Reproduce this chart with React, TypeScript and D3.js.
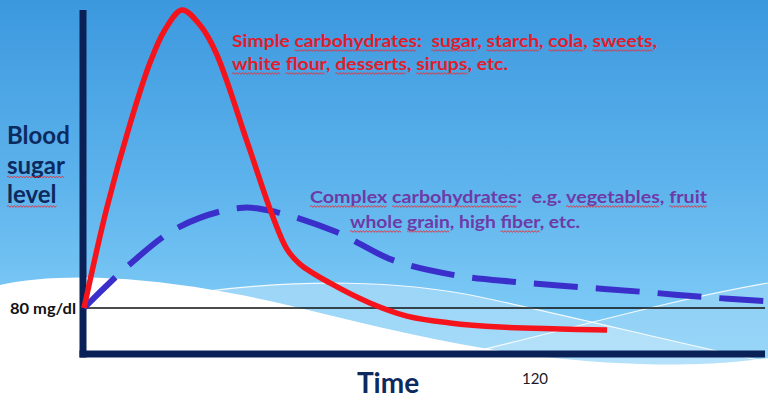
import { useLayoutEffect, useRef, useState } from "react";
import * as d3 from "d3";

const WIDTH = 768;
const HEIGHT = 407;
const PLOT = { left: 84, right: 765, top: 9, bottom: 354 };
const FONT = "Lato, 'Open Sans', sans-serif";

// time in minutes, blood sugar in mg/dl
const simpleTime = [0, 6.1, 12.3, 17.6, 21.6, 26.2, 31, 35.3, 43.6, 50.5, 54.2, 57.7, 65.7, 76.4, 86.3, 97.8, 111.2, 127.2, 139.8];
const simpleLevel = [80, 123.5, 160, 186.5, 200.9, 209.6, 203, 190.9, 152.2, 119.6, 105.7, 99.1, 90.9, 82.2, 76.5, 73.5, 71.7, 70.9, 70.4];
const complexTime = [0, 12, 25.4, 41.5, 51.4, 67.5, 82.4, 99, 115.6, 132.5, 149.4, 165.4, 182];
const complexLevel = [80, 98.7, 115.2, 123.5, 121.7, 113, 100.9, 94.3, 91.3, 89.1, 87, 84.8, 83];

const fastingLevel = 80;
const timeTicks = [120];
const yLabelLines = ["Blood", "sugar", "level"];
const yLabelFlagged = [false, true, true];

const simpleNote = ["Simple carbohydrates:  sugar, starch, cola, sweets,", "white flour, desserts, sirups, etc."];
const simpleFlagged = [
  ["carbohydrates", "sugar", "starch", "cola", "sweets"],
  ["white", "flour", "desserts", "sirups"],
];
const complexNote = ["Complex carbohydrates:  e.g. vegetables, fruit", "whole grain, high fiber, etc."];
const complexFlagged = [
  ["Complex", "carbohydrates", "vegetables", "fruit"],
  ["whole", "grain", "fiber"],
];

function squiggle(a: number, b: number, y: number) {
  let d = `M${a},${y}`;
  let up = true;
  for (let x = a + 1.5; x <= b; x += 1.5) {
    d += `L${x.toFixed(1)},${(y + (up ? -0.9 : 0.9)).toFixed(1)}`;
    up = !up;
  }
  return d;
}

function SquiggleText({ x, y, text, flagged, fill, size, weight = 700, length }: any) {
  const ref = useRef<SVGTextElement>(null);
  const [runs, setRuns] = useState<[number, number][]>([]);

  useLayoutEffect(() => {
    const el = ref.current;
    if (!el) return;
    let from = 0;
    const out: [number, number][] = [];
    flagged.forEach((w: string) => {
      const i = text.indexOf(w, from);
      if (i < 0) return;
      from = i + w.length;
      const a = el.getStartPositionOfChar(i).x;
      const b = el.getEndPositionOfChar(i + w.length - 1).x;
      out.push([a, b]);
    });
    setRuns(out);
  }, [text]);

  return (
    <g>
      <text
        ref={ref}
        x={x}
        y={y}
        fill={fill}
        fontFamily={FONT}
        fontSize={size}
        fontWeight={weight}
        textLength={length}
        lengthAdjust="spacingAndGlyphs"
        xmlSpace="preserve"
        style={{ whiteSpace: "pre" }}
      >
        {text}
      </text>
      {runs.map(([a, b], i) => (
        <path key={i} d={squiggle(a, b, y + 3.5)} stroke="#e4323c" strokeWidth={0.9} fill="none" />
      ))}
    </g>
  );
}

export default function App() {
  const x = d3.scaleLinear().domain([0, 182]).range([PLOT.left, PLOT.right]);
  const y = d3.scaleLinear().domain([60, 210]).range([PLOT.bottom, PLOT.top]);

  const line = d3
    .line<[number, number]>()
    .x((d) => x(d[0]))
    .y((d) => y(d[1]))
    .curve(d3.curveCatmullRom.alpha(0.5));

  const simplePath = line(simpleTime.map((t, i) => [t, simpleLevel[i]])) || "";
  const complexPath = line(complexTime.map((t, i) => [t, complexLevel[i]])) || "";

  const axisY = y(60);
  const axisX = x(0) - 1;

  return (
    <svg width={WIDTH} height={HEIGHT} style={{ position: "absolute", left: 0, top: 0 }}>
      <defs>
        <linearGradient id="sky" x1="0" y1="0" x2="0" y2="1">
          <stop offset="0" stopColor="#3c98de" />
          <stop offset="0.45" stopColor="#5db3ec" />
          <stop offset="0.7" stopColor="#76c5f4" />
          <stop offset="1" stopColor="#8ad4f9" />
        </linearGradient>
      </defs>

      {/* backdrop */}
      <rect width={WIDTH} height={HEIGHT} fill="url(#sky)" />
      <path d="M200,292 C300,279 400,280 480,297 C580,318 680,344 768,362 L768,407 L200,407 Z" fill="#ffffff" opacity={0.28} />
      <path d="M440,360 C560,332 660,302 768,283 L768,407 L440,407 Z" fill="#ffffff" opacity={0.18} />
      <path
        d="M0,285 C60,272 160,274 300,308 C420,338 520,360 640,364 C700,366 740,362 768,358 L768,407 L0,407 Z"
        fill="#ffffff"
      />
      <path d="M200,292 C300,279 400,280 480,297 C580,318 680,344 768,362" fill="none" stroke="#ffffff" strokeWidth={1.2} opacity={0.9} />
      <path d="M440,360 C560,332 660,302 768,283" fill="none" stroke="#ffffff" strokeWidth={1.2} opacity={0.9} />

      {/* fasting level line */}
      <line x1={axisX} x2={PLOT.right} y1={y(fastingLevel)} y2={y(fastingLevel)} stroke="#111" strokeWidth={1.5} />
      <text x={76} y={y(fastingLevel) + 6} textAnchor="end" fontFamily={FONT} fontWeight={700} fontSize={16} fill="#111" textLength={66} lengthAdjust="spacingAndGlyphs">
        {fastingLevel} mg/dl
      </text>

      {/* axes */}
      <line x1={axisX} x2={axisX} y1={10} y2={axisY + 3.5} stroke="#0a2158" strokeWidth={7} />
      <line x1={axisX - 3.5} x2={PLOT.right} y1={axisY} y2={axisY} stroke="#0a2158" strokeWidth={7} />

      {/* curves */}
      <path d={complexPath} fill="none" stroke="#3b2fcb" strokeWidth={6} strokeDasharray="44 18" />
      <path d={simplePath} fill="none" stroke="#f5141c" strokeWidth={5.5} strokeLinejoin="round" />

      {/* axis labels */}
      {yLabelLines.map((t, i) => (
        <SquiggleText
          key={t}
          x={7}
          y={144 + i * 29.5}
          text={t}
          flagged={yLabelFlagged[i] ? [t] : []}
          fill="#0d2a5f"
          size={24}
        />
      ))}
      <text x={388} y={393} textAnchor="middle" fontFamily={FONT} fontWeight={700} fontSize={28} fill="#0d2a5f">
        Time
      </text>
      {timeTicks.map((t) => (
        <text key={t} x={x(t) + 2} y={384} textAnchor="middle" fontFamily={FONT} fontSize={15} fill="#1a1a2a">
          {t}
        </text>
      ))}

      {/* notes */}
      {simpleNote.map((t, i) => (
        <SquiggleText
          key={t}
          x={232}
          y={47 + i * 23}
          text={t}
          flagged={simpleFlagged[i]}
          fill="#e31b2a"
          size={17}
          length={i === 0 ? 425 : 276}
        />
      ))}
      {complexNote.map((t, i) => (
        <SquiggleText
          key={t}
          x={i === 0 ? 310 : 350}
          y={203 + i * 25}
          text={t}
          flagged={complexFlagged[i]}
          fill="#6e3aa7"
          size={17}
          length={i === 0 ? 397 : 230}
        />
      ))}
    </svg>
  );
}
